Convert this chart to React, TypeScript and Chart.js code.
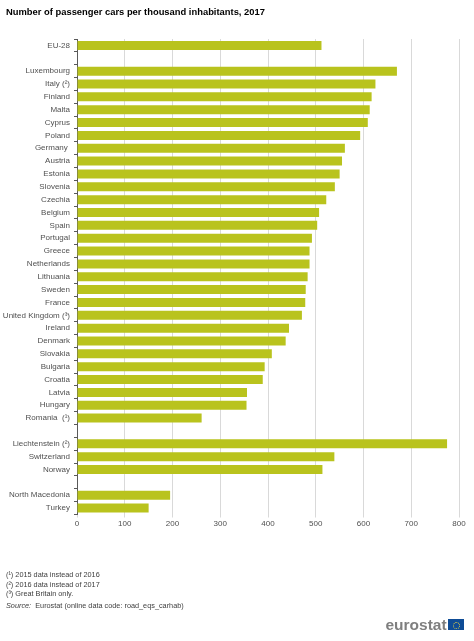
import React, { useRef, useEffect } from 'react';
import { Chart, registerables } from 'chart.js';

Chart.register(...registerables);

const countries = [
    'EU-28', '', 'Luxembourg', 'Italy (²)', 'Finland', 'Malta', 'Cyprus', 'Poland', 'Germany ', 'Austria',
    'Estonia', 'Slovenia', 'Czechia', 'Belgium', 'Spain', 'Portugal', 'Greece', 'Netherlands', 'Lithuania',
    'Sweden', 'France', 'United Kingdom (³)', 'Ireland', 'Denmark', 'Slovakia', 'Bulgaria', 'Croatia',
    'Latvia', 'Hungary', 'Romania  (¹)', '', 'Liechtenstein (²)', 'Switzerland', 'Norway', '',
    'North Macedonia', 'Turkey',
];

const cars = [
    512, null, 670, 625, 617, 613, 609, 593, 561, 555,
    550, 540, 522, 507, 503, 492, 487, 487, 483,
    479, 478, 471, 444, 437, 408, 393, 389,
    356, 355, 261, null, 775, 539, 514, null,
    195, 150,
];

const footnotes = [
    '(¹) 2015 data instead of 2016',
    '(²)  2016 data instead of 2017',
    '(³) Great Britain only.',
];

const FONT = '"Liberation Sans", Arial, sans-serif';

const App: React.FC = () => {
    const chartRef = useRef<HTMLCanvasElement>(null);

    useEffect(() => {
        const ctx = chartRef.current?.getContext('2d');
        if (!ctx) return;

        const chart = new Chart(ctx, {
            type: 'bar',
            data: {
                labels: countries,
                datasets: [
                    {
                        data: cars,
                        backgroundColor: '#b9c31d',
                        categoryPercentage: 1,
                        barPercentage: 0.7,
                    },
                ],
            },
            options: {
                indexAxis: 'y',
                responsive: false,
                animation: false,
                layout: { padding: { top: 39, left: 0, right: 15, bottom: 110.5 } },
                plugins: {
                    legend: { display: false },
                    title: { display: false },
                    tooltip: { enabled: false },
                },
                scales: {
                    x: {
                        min: 0,
                        max: 800,
                        afterFit: (scale: any) => { scale.height = 16; },
                        ticks: {
                            stepSize: 100,
                            maxRotation: 0,
                            color: '#505050',
                            font: { family: FONT, size: 8 },
                            padding: 1,
                        },
                        border: { display: false },
                        grid: { color: '#d9d9d9', lineWidth: 1, tickLength: 3 },
                    },
                    y: {
                        afterFit: (scale: any) => { scale.width = 77; },
                        ticks: {
                            autoSkip: false,
                            color: '#505050',
                            font: { family: FONT, size: 8 },
                            padding: 4,
                        },
                        border: { display: true, color: '#595959', width: 1 },
                        grid: {
                            offset: true,
                            drawOnChartArea: false,
                            color: '#595959',
                            tickLength: 3,
                        },
                    },
                },
            },
        });

        return () => chart.destroy();
    }, []);

    const text: React.CSSProperties = { position: 'absolute', fontFamily: FONT, whiteSpace: 'nowrap', color: '#404040' };

    return (
        <div style={{ position: 'absolute', left: 0, top: 0, width: 474, height: 641, background: '#fff', overflow: 'hidden' }}>
            <canvas ref={chartRef} width={474} height={641} style={{ position: 'absolute', left: 0, top: 0 }} />
            <div style={{ ...text, left: 6, top: 4, fontSize: 9.4, lineHeight: '16px', fontWeight: 700, color: '#000' }}>
                Number of passenger cars per thousand inhabitants, 2017
            </div>
            {footnotes.map((note, i) => (
                <div key={i} style={{ ...text, left: 6, top: 570 + i * 9.5, fontSize: 7.3, lineHeight: '10px' }}>{note}</div>
            ))}
            <div style={{ ...text, left: 6, top: 601, fontSize: 7.3, lineHeight: '10px' }}>
                <i>Source:</i>&nbsp; Eurostat (online data code: road_eqs_carhab)
            </div>
            <div style={{ ...text, left: 385.5, top: 616, fontSize: 15.5, lineHeight: '18px', fontWeight: 700, color: '#7f7f7f' }}>
                eurostat
            </div>
            <div style={{ position: 'absolute', left: 448, top: 619, width: 16, height: 11, background: '#0e4c96' }}>
                <div style={{ position: 'absolute', left: 5, top: 2.5, width: 5, height: 5, borderRadius: '50%', border: '0.5px dotted #d8c94a' }} />
            </div>
        </div>
    );
};

export default App;
